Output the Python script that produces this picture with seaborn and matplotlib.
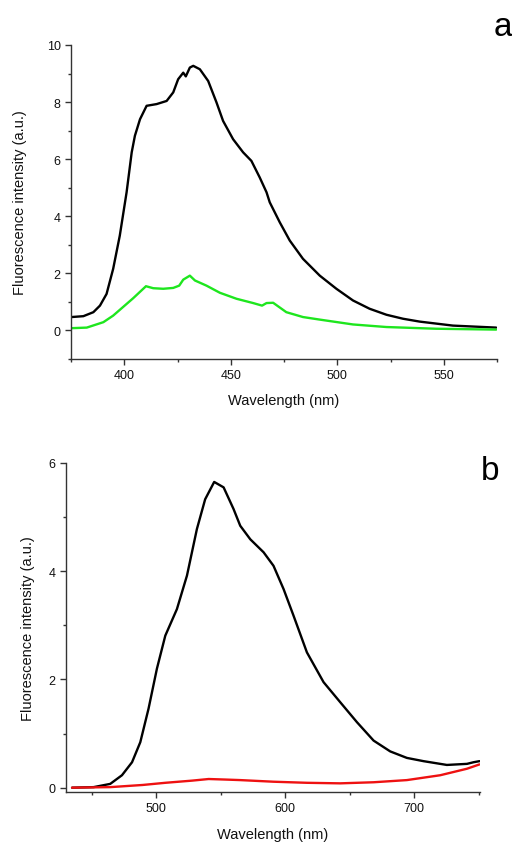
import matplotlib
matplotlib.use('Agg')
import matplotlib.pyplot as plt
import pandas as pd
import seaborn as sns
from matplotlib.ticker import AutoMinorLocator, MultipleLocator

# ─── Panel a data ────────────────────────────────────────────────────────────

a_black_wl = [375.3, 380.8, 385.5, 388.6, 391.7, 394.8, 397.9, 401.1, 403.5, 405,
              407.4, 410.5, 415.2, 419.9, 423, 425.3, 427.7, 428.9, 430.8, 432.4,
              435.5, 439.4, 443.3, 446.4, 451.1, 455.8, 459.7, 463.6, 466.8, 468.3,
              473, 477.7, 483.9, 491.8, 499.6, 507.4, 515.2, 523.1, 530.9, 538.7,
              554.3, 574.6]
a_black_int = [0.47, 0.5, 0.64, 0.87, 1.28, 2.16, 3.32, 4.84, 6.24, 6.82,
               7.4, 7.87, 7.93, 8.04, 8.34, 8.8, 9.03, 8.9, 9.21, 9.27,
               9.15, 8.74, 7.99, 7.34, 6.7, 6.24, 5.94, 5.36, 4.84, 4.49,
               3.79, 3.15, 2.51, 1.92, 1.46, 1.05, 0.76, 0.55, 0.41, 0.31,
               0.17, 0.1]

a_green_wl = [375.3, 382.4, 390.2, 394.8, 404.2, 410.2, 413.6, 418.3, 423, 425.8,
              427.7, 430.8, 433.2, 438.6, 444.9, 452.7, 460.5, 464.7, 466.8, 469.9,
              476.1, 483.9, 491.8, 507.4, 523.1, 546.5, 574.6]
a_green_int = [0.08, 0.1, 0.29, 0.52, 1.13, 1.55, 1.48, 1.46, 1.49, 1.57,
               1.78, 1.92, 1.75, 1.57, 1.32, 1.11, 0.96, 0.87, 0.96, 0.97,
               0.64, 0.47, 0.38, 0.21, 0.12, 0.06, 0.03]

# ─── Panel b data ────────────────────────────────────────────────────────────

b_black_wl = [434.7, 451.4, 464.3, 473.4, 481.2, 487.6, 494, 500.5, 507, 516,
              523.8, 531.5, 537.9, 544.9, 552.2, 559.9, 565.1, 572.9, 583.2, 590.9,
              598.7, 606.4, 616.8, 629.7, 642.6, 655.6, 668.5, 681.4, 694.3, 707.2,
              725.3, 740.9, 746, 750.6]
b_black_int = [0, 0.01, 0.07, 0.23, 0.47, 0.84, 1.46, 2.2, 2.81, 3.3,
               3.92, 4.78, 5.33, 5.65, 5.55, 5.15, 4.84, 4.59, 4.35, 4.1,
               3.67, 3.18, 2.5, 1.95, 1.58, 1.21, 0.87, 0.67, 0.55, 0.49,
               0.42, 0.44, 0.47, 0.49]

b_red_wl = [434.7, 464.3, 489.5, 507, 527.7, 540.6, 553.5, 565.1, 590.9, 616.8,
            642.6, 668.5, 694.3, 720.2, 740.9, 750.6]
b_red_int = [0, 0.01, 0.05, 0.09, 0.13, 0.16, 0.15, 0.14, 0.11, 0.09,
             0.08, 0.1, 0.14, 0.23, 0.35, 0.43]


def make_df(wl_a, int_a, wl_b, int_b, name_a, name_b):
    return pd.concat([
        pd.DataFrame({'wl': wl_a, 'fl': int_a, 'sample': name_a}),
        pd.DataFrame({'wl': wl_b, 'fl': int_b, 'sample': name_b}),
    ], ignore_index=True)


def style_axes(ax, xlim, ylim, xmajor, ymajor, xpad, ypad):
    ax.set_xlim(*xlim)
    ax.set_ylim(*ylim)
    ax.xaxis.set_major_locator(MultipleLocator(xmajor))
    ax.yaxis.set_major_locator(MultipleLocator(ymajor))
    ax.xaxis.set_minor_locator(AutoMinorLocator(2))
    ax.yaxis.set_minor_locator(AutoMinorLocator(2))
    ax.tick_params(which='major', direction='out', length=4, width=1,
                   labelsize=9, colors='#333333', labelcolor='#111111')
    ax.tick_params(which='minor', direction='out', length=2.5, width=1,
                   colors='#333333')
    for side in ('top', 'right'):
        ax.spines[side].set_visible(False)
    for side in ('left', 'bottom'):
        ax.spines[side].set_linewidth(1)
        ax.spines[side].set_color('#333333')
    ax.set_xlabel('Wavelength (nm)', fontsize=10.5, labelpad=xpad, color='#111111')
    ax.set_ylabel('Fluorescence intensity (a.u.)', fontsize=10.5, labelpad=ypad,
                  color='#111111')
    if ax.get_legend() is not None:
        ax.get_legend().remove()


sns.set_style('ticks')
plt.rcParams['font.family'] = ['Liberation Sans', 'DejaVu Sans']

fig = plt.figure(figsize=(5.12, 8.45), dpi=100)
W, H = 512, 845
ax_a = fig.add_axes([71 / W, 1 - 360 / H, (497 - 71) / W, (360 - 46) / H])
ax_b = fig.add_axes([66 / W, 1 - 793 / H, (480 - 66) / W, (793 - 464) / H])

df_a = make_df(a_black_wl, a_black_int, a_green_wl, a_green_int, 'black', 'green')
sns.lineplot(data=df_a, x='wl', y='fl', hue='sample',
             palette={'black': 'black', 'green': '#1ee61e'},
             linewidth=1.7, estimator=None, sort=False, ax=ax_a)
style_axes(ax_a, (375, 575), (-1, 10), 50, 2, xpad=8, ypad=14)
fig.text(503 / W, 1 - 28 / H, 'a', fontsize=24, ha='center', va='center',
         color='black')

df_b = make_df(b_black_wl, b_black_int, b_red_wl, b_red_int, 'black', 'red')
sns.lineplot(data=df_b, x='wl', y='fl', hue='sample',
             palette={'black': 'black', 'red': '#ee1111'},
             linewidth=1.7, estimator=None, sort=False, ax=ax_b)
style_axes(ax_b, (430, 751), (-0.08, 6), 100, 2, xpad=9, ypad=10)
fig.text(490 / W, 1 - 472 / H, 'b', fontsize=24, ha='center', va='center',
         color='black')

fig.savefig('out.png', dpi=100)
